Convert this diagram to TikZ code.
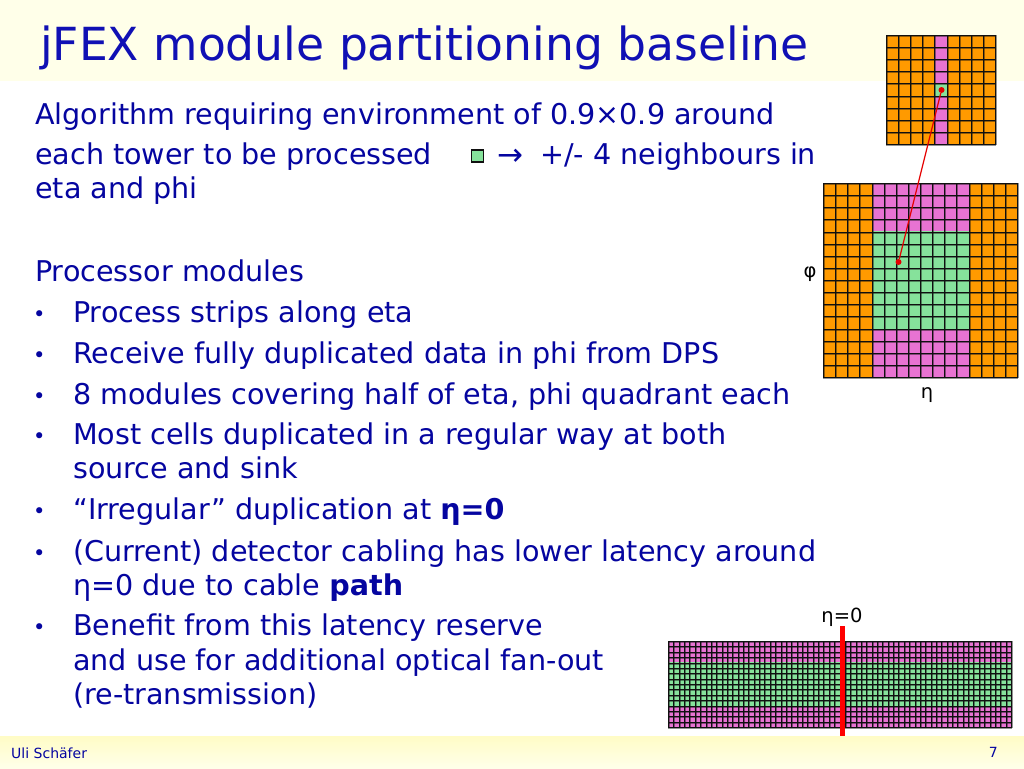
\documentclass[tikz,border=0pt]{standalone}
\usepackage{fontspec}
\setmainfont{DejaVu Sans}
\definecolor{txtblue}{HTML}{0505A0}
\definecolor{titleblue}{HTML}{1010B4}
\definecolor{band}{HTML}{FFFFE9}
\definecolor{bandtop}{HTML}{FFFCC6}
\definecolor{cellorange}{HTML}{FF9A00}
\definecolor{cellpink}{HTML}{E873D2}
\definecolor{cellgreen}{HTML}{86E29B}
\definecolor{griddark}{HTML}{101010}
\tikzset{
  body/.style={anchor=base west,inner sep=0pt,text=txtblue,font=\fontsize{28.6}{28.6}\selectfont},
  bul/.style={anchor=base west,inner sep=0pt,text=txtblue,font=\fontsize{21}{21}\selectfont},
  plain/.style={anchor=base,inner sep=0pt,text=black,font=\fontsize{19.5}{19.5}\selectfont},
  foot/.style={anchor=base west,inner sep=0pt,text=txtblue,font=\fontsize{14}{14}\selectfont},
  dot/.style={circle,fill=red!90!black,draw=none,minimum size=6pt,inner sep=0pt},
}
% #1 left #2 top #3 right #4 bottom #5 cols #6 rows #7 opacity of the soft edge
% every line is a crisp pixel-aligned bar plus a softer bar beside it
\newcommand{\gridbars}[7]{%
  \pgfmathsetmacro{\stepx}{(#3-#1)/#5}%
  \pgfmathsetmacro{\stepy}{(#4-#2)/#6}%
  \foreach \i in {0,...,#5}{%
    \pgfmathsetmacro{\xx}{round(#1+\i*\stepx)}%
    \fill[griddark] (\xx,#2) rectangle (\xx+1,#4+1);
    \fill[griddark,opacity=#7] (\xx+1,#2) rectangle (\xx+2,#4+1);}%
  \foreach \j in {0,...,#6}{%
    \pgfmathsetmacro{\yy}{round(#2+\j*\stepy)}%
    \fill[griddark] (#1,\yy) rectangle (#3+1,\yy+1);
    \fill[griddark,opacity=#7] (#1,\yy+1) rectangle (#3+1,\yy+2);}%
}
\begin{document}
\begin{tikzpicture}[x=1pt,y=-1pt]
\useasboundingbox (0,0) rectangle (1024,768);
\fill[white] (0,0) rectangle (1024,768);
\fill[band] (0,0) rectangle (1024,81);
\shade[top color=bandtop,bottom color=band] (0,736) rectangle (1024,768);
% title
\node[anchor=base west,inner sep=0pt,text=titleblue,font=\fontsize{45.6}{45.6}\selectfont] (title) at (40,60) {jFEX module partitioning baseline};
% body
\node[body] (l1) at (35,124) {Algorithm requiring environment of 0.9×0.9 around};
\node[body] (l2) at (35,164) {each tower to be processed};
\node[draw=griddark,fill=cellgreen,line width=1.2pt,minimum size=12pt,inner sep=0pt] (sq) at (477.5,156) {};
\node[body,font=\fontsize{31}{31}\selectfont] (l2b) at (497,165) {→};
\node[body] (l2c) at (540,164) {+/- 4 neighbours in};
\node[body] (l3) at (35,198) {eta and phi};
\node[body] (l4) at (35,281) {Processor modules};
\foreach \nm/\y/\t in {a/322/{Process strips along eta},
  b/363/{Receive fully duplicated data in phi from DPS},
  c/404/{8 modules covering half of eta, phi quadrant each},
  d/444/{Most cells duplicated in a regular way at both},
  e/478/{source and sink},
  f/519/{“Irregular” duplication at \textbf{η=0}},
  g/561/{(Current) detector cabling has lower latency around},
  h/595/{η=0 due to cable \textbf{path}},
  i/635/{Benefit from this latency reserve},
  j/670/{and use for additional optical fan-out},
  k/704/{(re-transmission)}}
  {\node[body] (t\nm) at (73,\y) {\t};}
\foreach \nm/\y in {a/322,b/363,c/404,d/444,f/519,g/561,i/635}
  {\node[bul] (b\nm) at (33,\y-1) {•};}
% top grid
\fill[cellorange] (886,35) rectangle (996,144);
\fill[cellpink] (935,35) rectangle (947,144);
\fill[cellgreen] (935,84) rectangle (947,96);
\gridbars{886}{35}{995}{144}{9}{9}{.45}
% middle grid
\fill[cellorange] (823,183) rectangle (1017,377);
\fill[cellpink] (872,183) rectangle (969,377);
\fill[cellgreen] (872,231) rectangle (969,329);
\gridbars{823}{183}{1017}{377}{16}{16}{.45}
% bottom grid
\fill[cellpink] (668,641) rectangle (1011,727);
\fill[cellgreen] (668,662) rectangle (1011,706);
\gridbars{668}{641}{1011}{727}{64}{16}{.45}
% markers
\node[dot] (d1) at (941.5,90) {};
\node[dot] (d2) at (898.5,262) {};
\draw[red!90!black,line width=1.2pt] (d1) -- (d2);
\coordinate (rtop) at (842.5,626);
\coordinate (rbot) at (842.5,736);
\draw[red,line width=5.5pt] (rtop) -- (rbot);
% labels
\node[plain] (phi) at (810,277) {φ};
\node[plain] (eta) at (927,398) {η};
\node[plain] (etazero) at (842,622) {η=0};
% footer
\node[foot] (uli) at (11,758) {Uli Schäfer};
\node[foot,anchor=base east] (pg) at (998,757) {7};
\end{tikzpicture}
\end{document}
